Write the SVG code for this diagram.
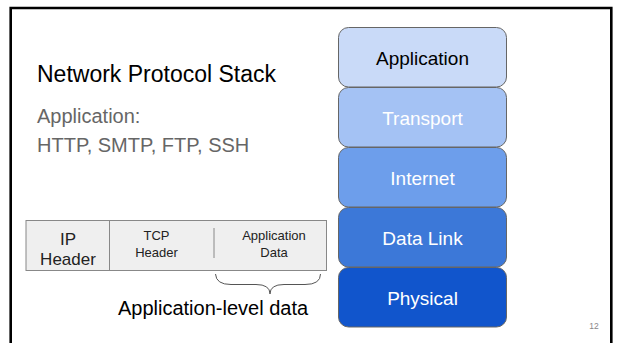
<svg xmlns="http://www.w3.org/2000/svg" width="618" height="343" viewBox="0 0 618 343">
<style>
text{font-family:"Liberation Sans",Arial,sans-serif}
.layer{stroke:#666;stroke-width:1}
.lt{font-size:19px;text-anchor:middle;fill:#fff}
.pk{font-size:13px;text-anchor:middle;fill:#222}
</style>
<rect x="0" y="0" width="618" height="343" fill="#fff"/>
<path d="M10.7,350 V8 H611.3 V350" fill="none" stroke="#000" stroke-width="2.6"/>
<g id="title">
<text x="37" y="82" font-size="23" fill="#000">Network Protocol Stack</text>
</g>
<g id="subtitle" fill="#666" font-size="20">
<text x="37" y="123">Application:</text>
<text x="37" y="152">HTTP, SMTP, FTP, SSH</text>
</g>
<g id="layer-application">
<rect class="layer" x="338.5" y="27.5" width="168" height="59.5" rx="10" fill="#c9daf8"/>
<text class="lt" x="422.5" y="65" fill="#000" style="fill:#000">Application</text>
</g>
<g id="layer-transport">
<rect class="layer" x="338.5" y="87.5" width="168" height="59.5" rx="10" fill="#a4c2f4"/>
<text class="lt" x="422.5" y="125">Transport</text>
</g>
<g id="layer-internet">
<rect class="layer" x="338.5" y="147.5" width="168" height="59.5" rx="10" fill="#6d9eeb"/>
<text class="lt" x="422.5" y="185">Internet</text>
</g>
<g id="layer-datalink">
<rect class="layer" x="338.5" y="207.5" width="168" height="59.5" rx="10" fill="#3c78d8"/>
<text class="lt" x="422.5" y="245">Data Link</text>
</g>
<g id="layer-physical">
<rect class="layer" x="338.5" y="267.5" width="168" height="59.5" rx="10" fill="#1155cc"/>
<text class="lt" x="422.5" y="305">Physical</text>
</g>
<g id="packet">
<rect x="26" y="220.5" width="300.5" height="50" fill="#efefef" stroke="#888" stroke-width="1"/>
<line x1="109.5" y1="220.5" x2="109.5" y2="270.5" stroke="#888" stroke-width="1"/>
<line x1="214" y1="228" x2="214" y2="258" stroke="#888" stroke-width="1"/>
<text x="68" y="245" font-size="17" text-anchor="middle" fill="#222">IP</text>
<text x="68" y="265" font-size="17" text-anchor="middle" fill="#222">Header</text>
<text class="pk" x="156.5" y="240">TCP</text>
<text class="pk" x="156.5" y="257">Header</text>
<text class="pk" x="274" y="240">Application</text>
<text class="pk" x="274" y="257">Data</text>
</g>
<g id="connectors">
<path d="M215.5,274 Q216,284.5 231,284.5 L256,284.5 Q270,284.5 270,294 Q270,284.5 284,284.5 L305,284.5 Q320.5,284.5 320.5,274" fill="none" stroke="#555" stroke-width="1"/>
</g>
<g id="label-appdata">
<text x="213" y="315" font-size="20" text-anchor="middle" fill="#000">Application-level data</text>
</g>
<text x="594" y="329" font-size="8.5" text-anchor="middle" fill="#888">12</text>
</svg>
